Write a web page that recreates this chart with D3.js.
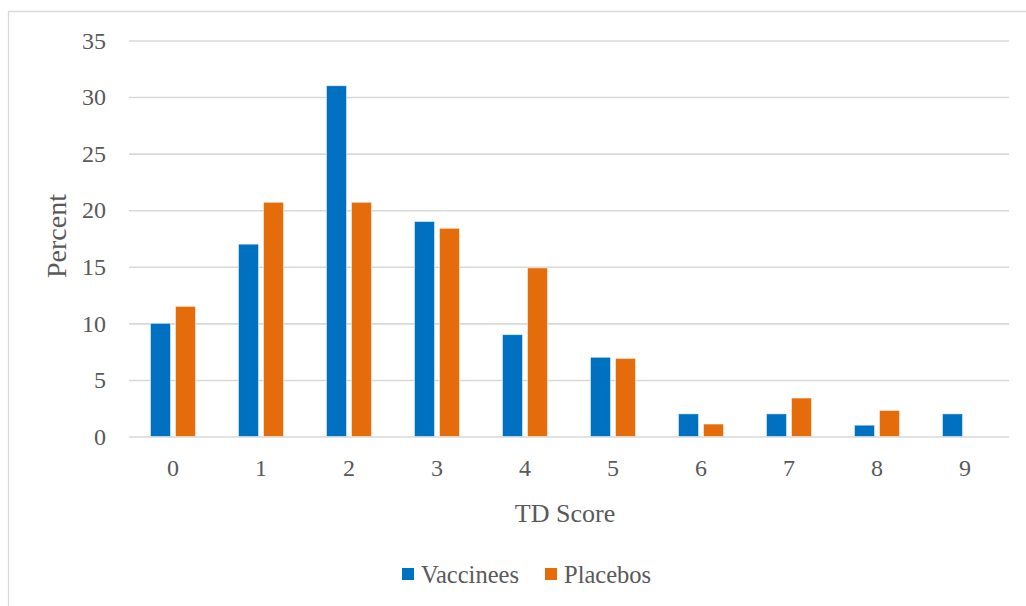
<!DOCTYPE html>
<html>
<head>
<meta charset="utf-8">
<script src="https://cdn.jsdelivr.net/npm/d3@7"></script>
<style>
  html, body { margin: 0; padding: 0; background: #fff; }
  svg { display: block; }
  text { font-family: "Liberation Serif", "DejaVu Serif", serif; fill: #595959; }
</style>
</head>
<body>
<svg id="chart" width="1026" height="606"></svg>
<script>
// TD score distribution, percent of each group
const categories = ["0", "1", "2", "3", "4", "5", "6", "7", "8", "9"];
const vaccinees = [10, 17, 31, 19, 9, 7, 2, 2, 1, 2];
const placebos = [11.5, 20.7, 20.7, 18.4, 14.9, 6.9, 1.1, 3.4, 2.3, 0];
const yTicks = [0, 5, 10, 15, 20, 25, 30, 35];
const seriesNames = ["Vaccinees", "Placebos"];
const seriesColors = ["#0070c0", "#e46c0a"];

const svg = d3.select("#chart");
const W = 1026, H = 606;

// chart frame
svg.append("path")
  .attr("d", `M8.5,${H} V11.5 H${W}`)
  .attr("fill", "none")
  .attr("stroke", "#d9d9d9")
  .attr("stroke-width", 1.3);

const plot = { left: 129, right: 1009, top: 40.5, bottom: 436.5 };

const x = d3.scaleBand().domain(categories).range([plot.left, plot.right]);
const y = d3.scaleLinear().domain([0, 35]).range([plot.bottom, plot.top]);

// gridlines + value labels
const yAxis = d3.axisLeft(y).tickValues(yTicks).tickSize(-(plot.right - plot.left)).tickPadding(23);
const gy = svg.append("g").attr("transform", `translate(${plot.left},0)`).call(yAxis);
gy.select(".domain").remove();
gy.selectAll(".tick line").attr("stroke", "#d9d9d9").attr("stroke-width", 1.6);
gy.selectAll(".tick text")
  .attr("font-size", 24)
  .attr("font-family", "Liberation Serif, DejaVu Serif, serif")
  .attr("fill", "#595959");

// bars
const barW = 20, gap = 5;
const data = [vaccinees, placebos];
data.forEach((vals, s) => {
  svg.append("g").selectAll("rect")
    .data(vals)
    .join("rect")
    .attr("x", (d, i) => x(categories[i]) + x.bandwidth() / 2 - (barW + gap / 2) + s * (barW + gap))
    .attr("y", d => y(d))
    .attr("width", barW)
    .attr("height", d => plot.bottom - y(d))
    .attr("fill", seriesColors[s])
    .attr("stroke", "#ffffff")
    .attr("stroke-opacity", 0.6)
    .attr("stroke-width", 0.8);
});

// category labels
const xAxis = d3.axisBottom(x).tickSize(0).tickPadding(22);
const gx = svg.append("g").attr("transform", `translate(0,${plot.bottom})`).call(xAxis);
gx.select(".domain").remove();
gx.selectAll(".tick text")
  .attr("font-size", 24)
  .attr("font-family", "Liberation Serif, DejaVu Serif, serif")
  .attr("fill", "#595959");

// axis titles
svg.append("text")
  .attr("x", (plot.left + plot.right) / 2 - 4)
  .attr("y", 522)
  .attr("text-anchor", "middle")
  .attr("font-size", 26)
  .text("TD Score");

svg.append("text")
  .attr("transform", `translate(66,236) rotate(-90)`)
  .attr("text-anchor", "middle")
  .attr("font-size", 28)
  .text("Percent");

// legend
const legendItems = [
  { name: seriesNames[0], color: seriesColors[0], x: 402 },
  { name: seriesNames[1], color: seriesColors[1], x: 545 }
];
const lg = svg.append("g");
legendItems.forEach(item => {
  lg.append("rect")
    .attr("x", item.x).attr("y", 568).attr("width", 12).attr("height", 12)
    .attr("fill", item.color);
  lg.append("text")
    .attr("x", item.x + 19).attr("y", 583)
    .attr("font-size", 24.5)
    .text(item.name);
});
</script>
</body>
</html>
